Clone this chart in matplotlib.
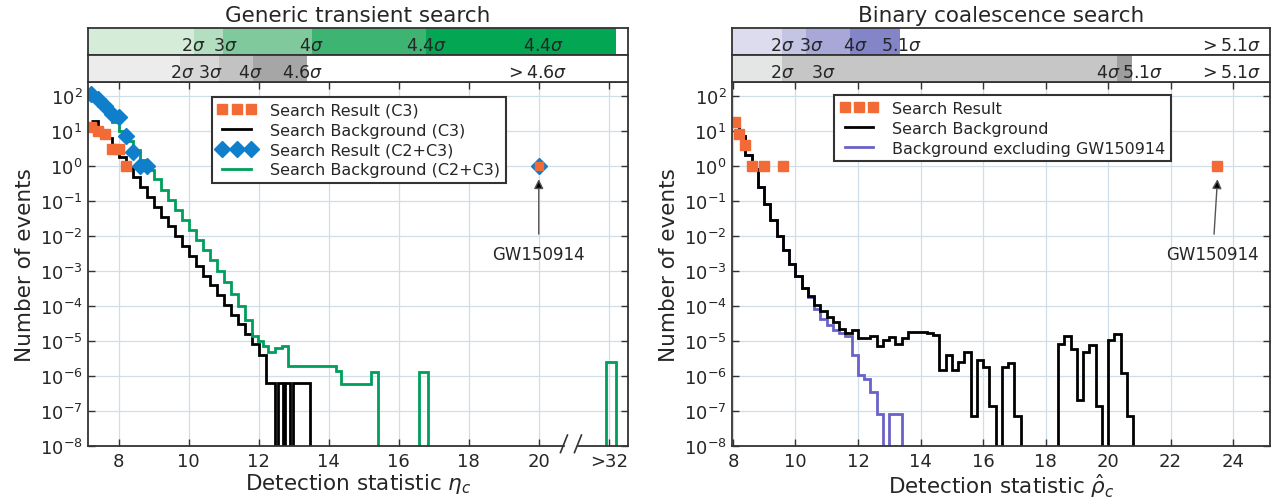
import numpy as np
import matplotlib
matplotlib.use('Agg')
import matplotlib.pyplot as plt
import matplotlib.transforms as mtransforms
from matplotlib.lines import Line2D

plt.rcParams['font.family'] = ['DejaVu Sans']
plt.rcParams['text.color'] = '#262626'
plt.rcParams['axes.labelcolor'] = '#262626'

# ---------------- generic transient search (left) ----------------
c3_edges = np.round(np.r_[np.arange(7.2, 12.21, 0.2),
                          [12.46, 12.55, 12.68, 12.74, 12.89, 12.98, 13.46, 13.7]], 2)
c3_bg = [19, 10.5, 6.3, 3.5, 1.8, 0.89, 0.47, 0.25, 0.13, 0.068, 0.035, 0.019,
         9.8e-3, 5.1e-3, 2.7e-3, 1.4e-3, 7.4e-4, 3.9e-4, 2.0e-4, 1.07e-4,
         5.6e-5, 3.0e-5, 1.55e-5, 8.1e-6, 4.0e-6,
         6.3e-7, 0, 6.3e-7, 0, 6.3e-7, 0, 6.3e-7, 0]

c23_edges = np.round(np.r_[np.arange(7.2, 11.81, 0.2),
                           [11.98, 12.12, 12.27, 12.46, 12.65, 12.83, 14.22, 14.36,
                            15.22, 15.41, 16.58, 16.84, 21.93, 22.2, 22.5]], 2)
c23_bg = [100, 56, 32, 18, 10, 5.2, 2.8, 1.5, 0.79, 0.42, 0.21, 0.11, 0.056,
          0.029, 0.015, 7.6e-3, 3.9e-3, 2.0e-3, 1.0e-3, 5.0e-4, 2.2e-4, 1.0e-4,
          4.0e-5,
          1.4e-5, 1.0e-5, 7.2e-6, 5.0e-6, 6.3e-6, 7.4e-6, 1.95e-6, 1.4e-6, 6.0e-7,
          1.3e-6, 0, 1.3e-6, 0, 2.5e-6, 0]

c3_res_x = [7.2, 7.4, 7.6, 7.8, 8.0, 8.2]
c3_res = [13, 10, 8, 3, 3, 1]
c23_res_x = [7.2, 7.4, 7.6, 7.8, 8.0, 8.2, 8.4, 8.6, 8.8]
c23_res = [115, 80, 50, 30, 25, 7, 2.5, 1, 1]
gw_burst_x, gw_burst_y = 20.0, 1

burst_xticks = [8, 10, 12, 14, 16, 18, 20, 22]
burst_xlabels = ['8', '10', '12', '14', '16', '18', '20', '>32']

burst_top_edges = [7.0, 10.14, 10.97, 13.51, 16.77, 22.2]
burst_top_colors = ['#d5ecd9', '#b4dec0', '#80c99c', '#3db472', '#03a653']
burst_top_labels = [r'$2\sigma$', r'$3\sigma$', r'$4\sigma$', r'$4.4\sigma$', r'$4.4\sigma$']
burst_top_lx = [10.14, 11.03, 13.51, 16.8, 20.14]

burst_bot_edges = [7.0, 9.74, 10.86, 11.83, 13.37]
burst_bot_colors = ['#ececec', '#d8d8d8', '#c2c2c2', '#a6a6a6']
burst_bot_labels = [r'$2\sigma$', r'$3\sigma$', r'$4\sigma$', r'$4.6\sigma$', r'$>4.6\sigma$']
burst_bot_lx = [9.8, 10.62, 11.77, 13.26, 19.94]

# ---------------- binary coalescence search (right) ----------------
cbc_edges = np.round(np.arange(8.0, 21.01, 0.2), 2)
cbc_bg = [18, 7, 2.0, 0.8, 0.25, 0.08, 0.028, 0.01, 4.0e-3, 1.6e-3, 7.1e-4, 3.2e-4,
          1.9e-4, 1.1e-4, 7.1e-5, 5.0e-5, 3.5e-5, 2.2e-5, 1.7e-5, 2.0e-5, 1.2e-5,
          1.25e-5, 1.4e-5, 7.1e-6, 1.05e-5, 1.3e-5, 8.0e-6, 1.2e-5, 1.75e-5, 1.8e-5,
          1.8e-5, 1.65e-5, 1.45e-5, 1.5e-6, 4.0e-6, 1.5e-6, 2.5e-6, 5.0e-6, 7.1e-8,
          2.8e-6, 1.8e-6, 1.35e-7, 0, 1.8e-6, 2.4e-6, 7.1e-8, 0, 0, 0, 0, 0, 0,
          8.3e-6, 1.35e-5, 6.0e-6, 2.1e-7, 4.9e-6, 7.6e-6, 1.35e-7, 0, 1.05e-5,
          1.6e-5, 1.2e-6, 7.1e-8, 0]
excl_edges = np.round(np.arange(8.0, 13.61, 0.2), 2)
excl_bg = [18, 7, 2.0, 0.8, 0.25, 0.08, 0.028, 0.01, 4.0e-3, 1.6e-3, 7.1e-4, 3.2e-4,
           1.75e-4, 8.0e-5, 4.2e-5, 2.8e-5, 2.1e-5, 1.65e-5, 1.4e-5, 4.0e-6, 1.1e-6,
           8.0e-7, 3.5e-7, 8.0e-8, 0, 8.0e-8, 8.0e-8, 0]
cbc_res_x = [8.05, 8.2, 8.4, 8.6, 9.0, 9.6]
cbc_res = [18, 8, 4, 1, 1, 1]
gw_cbc_x, gw_cbc_y = 23.5, 1

cbc_xticks = [8, 10, 12, 14, 16, 18, 20, 22, 24]

cbc_top_edges = [7.9, 9.57, 10.35, 11.74, 13.36]
cbc_top_colors = ['#dcdcee', '#c4c4e4', '#a8a8d8', '#8484c8']
cbc_top_labels = [r'$2\sigma$', r'$3\sigma$', r'$4\sigma$', r'$5.1\sigma$', r'$>5.1\sigma$']
cbc_top_lx = [9.57, 10.5, 11.9, 13.4, 23.9]

cbc_bot_edges = [7.9, 9.57, 20.29, 20.77]
cbc_bot_colors = ['#e4e6e6', '#c6c6c6', '#9e9e9e']
cbc_bot_labels = [r'$2\sigma$', r'$3\sigma$', r'$4\sigma$', r'$5.1\sigma$', r'$>5.1\sigma$']
cbc_bot_lx = [9.57, 10.9, 20.0, 21.1, 23.9]

orange = '#f26a35'
blue = '#0f7fcc'
green = '#009e5c'
purple = '#6a62c8'
edge = '#333333'


def nz(v):
    v = np.asarray(v, dtype=float)
    return np.where(v > 0, v, 1e-12)


def style_main(ax, xlim, xticks, xlabels, xlabel):
    ax.set_yscale('log')
    ax.set_xlim(*xlim)
    ax.set_ylim(1e-8, 250)
    ax.set_yticks([10.0 ** k for k in range(-8, 3)])
    ax.yaxis.set_minor_locator(matplotlib.ticker.NullLocator())
    ax.set_xticks(xticks)
    ax.set_xticklabels(xlabels)
    ax.grid(True, color='#cfdfe9', lw=0.9)
    ax.set_axisbelow(True)
    ax.tick_params(direction='in', length=5, width=1, top=True, right=True,
                   labelsize=13, pad=4, color=edge, labelcolor='#262626')
    for s in ax.spines.values():
        s.set_color(edge)
        s.set_linewidth(1.3)
    ax.set_xlabel(xlabel, fontsize=15.5, labelpad=1)
    ax.set_ylabel('Number of events', fontsize=15.5, labelpad=3)


def sig_bar(ax, xlim, edges, colors, labels, lx):
    for x0, x1, c in zip(edges[:-1], edges[1:], colors):
        ax.axvspan(x0, x1, color=c, lw=0)
    tr = mtransforms.blended_transform_factory(ax.transData, ax.transAxes)
    for lab, x in zip(labels, lx):
        ax.text(x, 0.36, lab, transform=tr, ha='center', va='center', fontsize=12.5)
    ax.set_xlim(*xlim)
    ax.set_ylim(0, 1)
    ax.set_xticks([])
    ax.set_yticks([])
    for s in ax.spines.values():
        s.set_color(edge)
        s.set_linewidth(1.3)


fig = plt.figure(figsize=(12.85, 5.02), dpi=100)

W, H = 1285.0, 502.0
ax_b = fig.add_axes([88 / W, 1 - 447 / H, 540 / W, 364 / H])
bar_b1 = fig.add_axes([88 / W, 1 - 56 / H, 540 / W, 27 / H])
bar_b2 = fig.add_axes([88 / W, 1 - 83 / H, 540 / W, 27 / H])
ax_c = fig.add_axes([732 / W, 1 - 447 / H, 538 / W, 364 / H])
bar_c1 = fig.add_axes([732 / W, 1 - 56 / H, 538 / W, 27 / H])
bar_c2 = fig.add_axes([732 / W, 1 - 83 / H, 538 / W, 27 / H])

# left panel
bxlim = (7.12, 22.55)
ax_b.stairs(nz(c3_bg), c3_edges, baseline=None, color='k', lw=2)
ax_b.stairs(nz(c23_bg), c23_edges, baseline=None, color=green, lw=2)
ax_b.plot(c23_res_x, c23_res, ls='none', marker='D', ms=8, color=blue, mec=blue)
ax_b.plot(c3_res_x, c3_res, ls='none', marker='s', ms=7.5, color=orange, mec=orange)
ax_b.plot([gw_burst_x], [gw_burst_y], ls='none', marker='D', ms=8, color=blue, mec=blue)
ax_b.plot([gw_burst_x], [gw_burst_y], ls='none', marker='s', ms=5.5, color=orange, mec=orange)
ax_b.annotate('GW150914', xy=(gw_burst_x, 0.42), xytext=(gw_burst_x, 3e-3),
              ha='center', va='center', fontsize=12,
              arrowprops=dict(arrowstyle='-|>', fc='k', ec='#555555', lw=1,
                              mutation_scale=14, shrinkA=6, shrinkB=0))
style_main(ax_b, bxlim, burst_xticks, burst_xlabels, r'Detection statistic $\eta_c$')

# broken axis marks
ax_b.spines['bottom'].set_visible(False)
trb = mtransforms.blended_transform_factory(ax_b.transData, ax_b.transAxes)
ax_b.plot([bxlim[0], 20.72], [0, 0], transform=trb, color=edge, lw=1.3, clip_on=False)
ax_b.plot([21.12, bxlim[1]], [0, 0], transform=trb, color=edge, lw=1.3, clip_on=False)
for xb in (20.72, 21.12):
    ax_b.plot([xb - 0.1, xb + 0.1], [-0.018, 0.03], transform=trb, color=edge,
              lw=1.2, clip_on=False)

hb = [Line2D([], [], ls='none', marker='s', ms=7.5, color=orange, mec=orange),
      Line2D([], [], color='k', lw=2),
      Line2D([], [], ls='none', marker='D', ms=8, color=blue, mec=blue),
      Line2D([], [], color=green, lw=2)]
lb = ax_b.legend(hb, ['Search Result (C3)', 'Search Background (C3)',
                      'Search Result (C2+C3)', 'Search Background (C2+C3)'],
                 loc='upper left', bbox_to_anchor=(0.215, 0.98), numpoints=3,
                 fontsize=11.5, fancybox=False, framealpha=1, handlelength=2.4,
                 labelspacing=0.3, borderpad=0.35, handletextpad=0.9)
lb.get_frame().set_edgecolor(edge)
lb.get_frame().set_linewidth(1.5)

sig_bar(bar_b1, bxlim, burst_top_edges, burst_top_colors, burst_top_labels, burst_top_lx)
sig_bar(bar_b2, bxlim, burst_bot_edges, burst_bot_colors, burst_bot_labels, burst_bot_lx)
bar_b1.set_title('Generic transient search', fontsize=15.5, pad=5)

# right panel
cxlim = (7.97, 25.18)
ax_c.stairs(nz(excl_bg), excl_edges, baseline=None, color=purple, lw=2)
ax_c.stairs(nz(cbc_bg), cbc_edges, baseline=None, color='k', lw=2)
ax_c.plot(cbc_res_x, cbc_res, ls='none', marker='s', ms=7.5, color=orange, mec=orange)
ax_c.plot([gw_cbc_x], [gw_cbc_y], ls='none', marker='s', ms=7.5, color=orange, mec=orange)
ax_c.annotate('GW150914', xy=(gw_cbc_x, 0.42), xytext=(gw_cbc_x - 0.15, 3e-3),
              ha='center', va='center', fontsize=12,
              arrowprops=dict(arrowstyle='-|>', fc='k', ec='#555555', lw=1,
                              mutation_scale=14, shrinkA=6, shrinkB=0))
style_main(ax_c, cxlim, cbc_xticks, [str(t) for t in cbc_xticks],
           r'Detection statistic $\hat{\rho}_c$')

hc = [Line2D([], [], ls='none', marker='s', ms=7.5, color=orange, mec=orange),
      Line2D([], [], color='k', lw=2),
      Line2D([], [], color=purple, lw=2)]
lc = ax_c.legend(hc, ['Search Result', 'Search Background', 'Background excluding GW150914'],
                 loc='upper left', bbox_to_anchor=(0.175, 0.985), numpoints=3,
                 fontsize=11.5, fancybox=False, framealpha=1, handlelength=2.4,
                 labelspacing=0.3, borderpad=0.35, handletextpad=0.9)
lc.get_frame().set_edgecolor(edge)
lc.get_frame().set_linewidth(1.5)

sig_bar(bar_c1, cxlim, cbc_top_edges, cbc_top_colors, cbc_top_labels, cbc_top_lx)
sig_bar(bar_c2, cxlim, cbc_bot_edges, cbc_bot_colors, cbc_bot_labels, cbc_bot_lx)
bar_c1.set_title('Binary coalescence search', fontsize=15.5, pad=5)

fig.savefig('out.png', dpi=100)
